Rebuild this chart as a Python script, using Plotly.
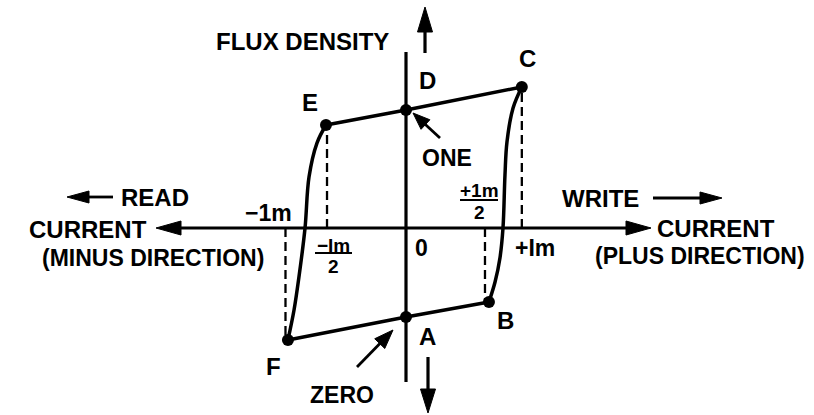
import math
import plotly.graph_objects as go

# ---- data (current in units of Im, flux density in units of Br) ----
pt_names = ["C", "D", "E", "F", "A", "B"]
pt_i = [0.99, 0.0, -0.684, -1.009, 0.0, 0.709]
pt_b = [1.195, 1.0, 0.873, -0.949, -0.754, -0.627]

top_i = [-0.684, 0.0, 0.99]          # E -> D -> C
top_b = [0.873, 1.0, 1.195]
bot_i = [-1.009, 0.0, 0.709]         # F -> A -> B
bot_b = [-0.949, -0.754, -0.627]
right_i = [0.99, 0.915, 0.863, 0.846, 0.829, 0.803, 0.761, 0.709]   # C -> B
right_b = [1.195, 1.017, 0.729, 0.449, 0.0, -0.254, -0.458, -0.627]
left_i = [-0.684, -0.761, -0.829, -0.863, -0.915, -0.957, -1.009]   # E -> F
left_b = [0.873, 0.720, 0.432, 0.0, -0.415, -0.695, -0.949]

dash_i = [0.99, -0.675, -1.03, 0.675]      # guide lines to the current axis
dash_b = [1.195, 0.873, -0.949, -0.627]

# ---- pixel -> data helpers for decorations ----
OX, OY, SX, SY = 406, 228, 117.0, 118.0
def X(px): return (px - OX) / SX
def Y(py): return (OY - py) / SY

fig = go.Figure()
K = "black"
lw = 3.5

fig.add_trace(go.Scatter(x=top_i, y=top_b, mode="lines", line=dict(color=K, width=lw)))
fig.add_trace(go.Scatter(x=bot_i, y=bot_b, mode="lines", line=dict(color=K, width=lw)))
fig.add_trace(go.Scatter(x=right_i, y=right_b, mode="lines", line=dict(color=K, width=lw, shape="spline")))
fig.add_trace(go.Scatter(x=left_i, y=left_b, mode="lines", line=dict(color=K, width=lw, shape="spline")))
for xi, yb in zip(dash_i, dash_b):
    fig.add_trace(go.Scatter(x=[xi, xi], y=[0, yb], mode="lines",
                             line=dict(color=K, width=2.3, dash="9px,5px")))
fig.add_trace(go.Scatter(x=pt_i, y=pt_b, mode="markers", marker=dict(color=K, size=12)))

shapes = []
def line(x0, y0, x1, y1, w=2.5):
    shapes.append(dict(type="line", x0=X(x0), y0=Y(y0), x1=X(x1), y1=Y(y1),
                       line=dict(color=K, width=w), layer="above"))

def arrow(x0, y0, x1, y1, w=2.5, hl=22, hw=7):
    L = math.hypot(x1 - x0, y1 - y0)
    ux, uy = (x1 - x0) / L, (y1 - y0) / L
    bx, by = x1 - ux * hl, y1 - uy * hl
    line(x0, y0, bx + ux * 2, by + uy * 2, w)
    px, py = -uy, ux
    p = "M {} {} L {} {} L {} {} Z".format(
        X(x1), Y(y1), X(bx + px * hw), Y(by + py * hw), X(bx - px * hw), Y(by - py * hw))
    shapes.append(dict(type="path", path=p, fillcolor=K, line=dict(color=K, width=1), layer="above"))

# axes
line(406, 52, 406, 382, 3.2)
arrow(406, 228, 156, 228, 2.8, 25, 7)
arrow(406, 228, 651, 228, 2.8, 25, 7)
arrow(425, 53, 425, 7, 3.2, 25, 7.5)
arrow(428, 357, 428, 413, 3.2, 24, 7.5)
# text arrows
arrow(653, 198, 722, 198, 2.8, 22, 6)
arrow(113, 197, 67, 197, 2.8, 22, 6)
arrow(440, 138, 413, 113, 2.8, 17, 6.5)
arrow(357, 367, 393, 330, 2.8, 19, 7)
# fraction bars
line(315, 253, 352, 253, 2.2)
line(460, 200, 498, 200, 2.2)

ann = []
def txt(s, px, py, size=24):
    ann.append(dict(text=s, x=X(px), y=Y(py), showarrow=False, xanchor="center", yanchor="middle",
                    font=dict(family="Liberation Sans", size=size, color=K, weight="bold")))

txt("FLUX DENSITY", 302, 41)
txt("D", 427, 80); txt("C", 527, 58); txt("E", 310, 102)
txt("ONE", 447, 158, 23)
txt("A", 427, 336); txt("B", 505, 320); txt("F", 273, 366)
txt("ZERO", 342, 395, 23)
txt("−1m", 268, 213, 23)
txt("−Im", 333, 245, 19); txt("2", 333, 266, 19)
txt("+1m", 479, 190, 19); txt("2", 479, 212, 19)
txt("0", 421, 248, 23)
txt("+Im", 535, 248, 23)
txt("WRITE", 600, 198)
txt("CURRENT", 716, 228)
txt("(PLUS DIRECTION)", 700, 256, 23)
txt("READ", 155, 197)
txt("CURRENT", 88, 229)
txt("(MINUS DIRECTION)", 153, 258, 23)

fig.update_layout(
    width=814, height=415, margin=dict(l=0, r=0, t=0, b=0),
    paper_bgcolor="white", plot_bgcolor="white", showlegend=False,
    xaxis=dict(range=[X(0), X(814)], visible=False, fixedrange=True),
    yaxis=dict(range=[Y(415), Y(0)], visible=False, fixedrange=True),
    shapes=shapes, annotations=ann,
)
fig.write_html("out.html", config={"displayModeBar": False},
               post_script="document.body.style.margin='0px';document.body.style.overflow='hidden';")
